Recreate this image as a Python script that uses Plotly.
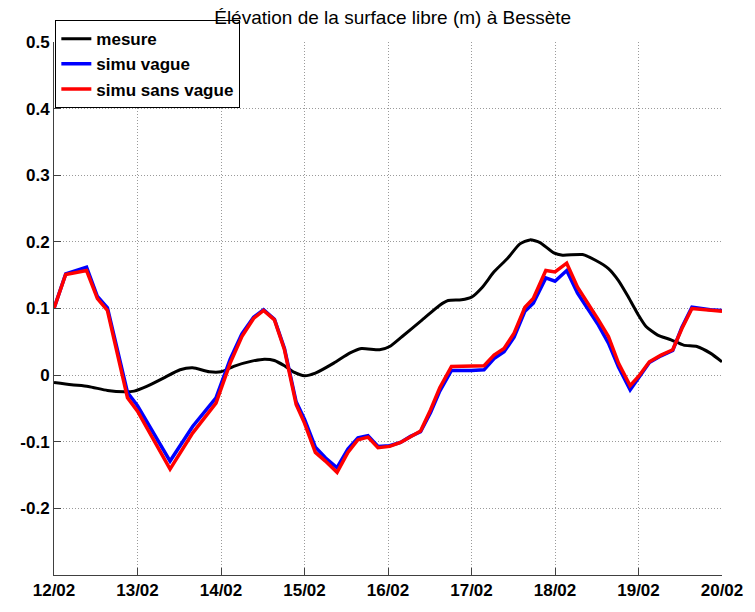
import plotly.graph_objects as go

# time in days since 12/02 00:00
mesure_t = [0.0, 0.21, 0.41, 0.64, 0.84, 0.96, 1.11, 1.31, 1.51, 1.66, 1.86, 2.0, 2.17, 2.37, 2.52,
            2.64, 2.76, 2.88, 3.0, 3.13, 3.35, 3.54, 3.68, 3.9, 4.02, 4.17, 4.41, 4.62, 4.72, 4.88,
            5.0, 5.13, 5.27, 5.43, 5.58, 5.7, 5.82, 5.98, 6.09, 6.33, 6.49, 6.64, 6.76, 6.88, 7.0,
            7.09, 7.23, 7.39, 7.54, 7.7, 7.86, 8.0]
mesure_y = [-0.011, -0.0145, -0.017, -0.023, -0.025, -0.024, -0.017, -0.0045, 0.008, 0.011, 0.005,
            0.005, 0.014, 0.021, 0.024, 0.022, 0.014, 0.004, -0.001, 0.003, 0.018, 0.033, 0.040,
            0.038, 0.043, 0.058, 0.083, 0.105, 0.112, 0.113, 0.117, 0.132, 0.155, 0.175, 0.197,
            0.203, 0.199, 0.184, 0.180, 0.181, 0.172, 0.160, 0.142, 0.117, 0.090, 0.073, 0.060,
            0.053, 0.045, 0.043, 0.033, 0.020]

simu_t = [0.0, 0.14, 0.39, 0.52, 0.64, 0.88, 1.0, 1.39, 1.66, 1.94, 2.11, 2.25, 2.39, 2.51, 2.64,
          2.76, 2.9, 3.0, 3.13, 3.25, 3.39, 3.52, 3.64, 3.76, 3.88, 4.02, 4.15, 4.27, 4.39, 4.51,
          4.62, 4.76, 5.0, 5.15, 5.27, 5.39, 5.51, 5.64, 5.74, 5.89, 6.0, 6.14, 6.27, 6.41, 6.52,
          6.64, 6.76, 6.9, 7.0, 7.13, 7.27, 7.41, 7.52, 7.64, 7.86, 8.0]
vague_y = [0.100, 0.152, 0.162, 0.118, 0.101, -0.026, -0.046, -0.129, -0.077, -0.034, 0.024,
           0.062, 0.087, 0.098, 0.084, 0.040, -0.040, -0.066, -0.108, -0.124, -0.139, -0.111,
           -0.094, -0.091, -0.107, -0.106, -0.101, -0.092, -0.085, -0.056, -0.024, 0.007, 0.007,
           0.008, 0.025, 0.035, 0.057, 0.096, 0.108, 0.146, 0.141, 0.157, 0.123, 0.097, 0.075,
           0.048, 0.012, -0.022, -0.004, 0.019, 0.029, 0.037, 0.072, 0.102, 0.098, 0.097]
sans_vague_y = [0.100, 0.151, 0.157, 0.115, 0.097, -0.034, -0.054, -0.141, -0.087, -0.042, 0.018,
                0.058, 0.085, 0.097, 0.083, 0.038, -0.044, -0.072, -0.116, -0.129, -0.146, -0.116,
                -0.097, -0.093, -0.109, -0.107, -0.101, -0.092, -0.084, -0.052, -0.019, 0.013,
                0.014, 0.014, 0.030, 0.040, 0.063, 0.102, 0.115, 0.157, 0.155, 0.168, 0.132, 0.105,
                0.083, 0.058, 0.018, -0.016, -0.002, 0.020, 0.030, 0.038, 0.070, 0.100, 0.097, 0.096]

tick_days = [0, 1, 2, 3, 4, 5, 6, 7, 8]
tick_labels = ["12/02", "13/02", "14/02", "15/02", "16/02", "17/02", "18/02", "19/02", "20/02"]
y_ticks = [-0.2, -0.1, 0, 0.1, 0.2, 0.3, 0.4, 0.5]
y_labels = ["-0.2", "-0.1", "0", "0.1", "0.2", "0.3", "0.4", "0.5"]

fig = go.Figure()
fig.add_trace(go.Scatter(x=mesure_t, y=mesure_y, mode="lines", name="mesure",
                         line=dict(color="black", width=3, shape="spline", smoothing=0.6)))
fig.add_trace(go.Scatter(x=simu_t, y=vague_y, mode="lines", name="simu vague",
                         line=dict(color="#0000ff", width=3.5)))
fig.add_trace(go.Scatter(x=simu_t, y=sans_vague_y, mode="lines", name="simu sans vague",
                         line=dict(color="#ff0000", width=3.5)))

font_family = "Liberation Sans, Arial, sans-serif"
grid = dict(showgrid=True, gridcolor="#9a9a9a", griddash="1px,2px", gridwidth=1, zeroline=False,
            ticks="inside", ticklen=7, tickcolor="#404040", showline=True, linecolor="#404040",
            linewidth=1, tickfont=dict(size=17, color="black", family=font_family, weight="bold"))

# the page body has an 8px margin, so the figure is 8px smaller and margins are shifted
fig.update_layout(
    width=747, height=604,
    margin=dict(l=41, r=26, t=33, b=35),
    paper_bgcolor="white", plot_bgcolor="white",
    title=dict(text="Élévation de la surface libre (m) à Bessète", x=0.515, xanchor="center",
               y=0.985, yanchor="middle", font=dict(size=19, color="black", family=font_family)),
    legend=dict(x=0.002, y=1.041, xanchor="left", yanchor="top", bgcolor="white",
                bordercolor="black", borderwidth=1,
                font=dict(size=17, color="black", family=font_family, weight="bold"),
                tracegroupgap=0),
    showlegend=True,
)
fig.update_xaxes(range=[0, 8], tickvals=tick_days, ticktext=tick_labels, **grid)
fig.update_yaxes(range=[-0.3, 0.5], tickvals=y_ticks, ticktext=y_labels, **grid)

fig.write_html("out.html")
